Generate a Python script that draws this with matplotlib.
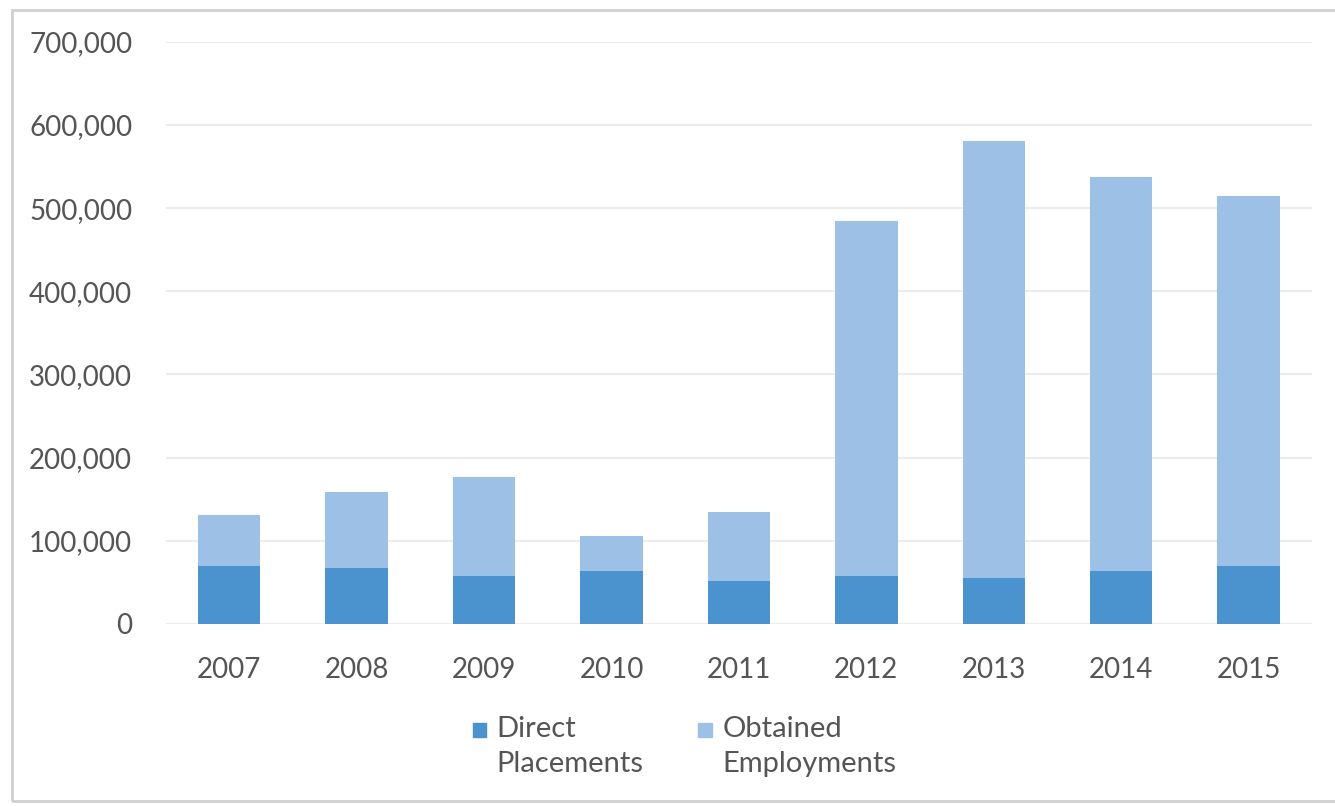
import numpy as np
import matplotlib.pyplot as plt
from matplotlib.ticker import FuncFormatter
from matplotlib.patches import Rectangle

years = ['2007', '2008', '2009', '2010', '2011', '2012', '2013', '2014', '2015']
direct = [70000, 67000, 57000, 63000, 51000, 57000, 55000, 64000, 69000]
totals = [131000, 158000, 177000, 106000, 135000, 485000, 581000, 538000, 515000]
obtained = [t - d for t, d in zip(totals, direct)]
series_names = ['Direct\nPlacements', 'Obtained\nEmployments']
colors = ['#4a93cf', '#9cc0e6']

plt.rcParams['font.family'] = ['Lato', 'DejaVu Sans']

fig = plt.figure(figsize=(13.35, 8.06), dpi=100)
ax = fig.add_axes([0.124, 0.226, 0.859, 0.722])

# light frame around the chart area
fig.patches.append(Rectangle((0.009, 0.006), 0.995, 0.982, transform=fig.transFigure,
                             fill=False, edgecolor='#d0d0d0', linewidth=2))

x = np.arange(len(years))
ax.bar(x, direct, width=0.49, color=colors[0], zorder=3)
ax.bar(x, obtained, width=0.49, bottom=direct, color=colors[1], zorder=3)

ax.set_xlim(-0.5, 8.5)
ax.set_ylim(0, 700000)
ax.set_yticks(np.arange(0, 700001, 100000))
ax.yaxis.set_major_formatter(FuncFormatter(lambda v, p: f'{int(v):,}'))
ax.set_xticks(x)
ax.set_xticklabels(years)
ax.grid(axis='y', color='#ececec', linewidth=1.5, zorder=0)
for s in ax.spines.values():
    s.set_visible(False)
ax.tick_params(length=0, labelsize=20, colors='#555555')
ax.tick_params(axis='x', pad=24)
ax.tick_params(axis='y', pad=24)

# legend: square marker beside first line of a two-line label
leg_x = [0.354, 0.523]
for lx, name, c in zip(leg_x, series_names, colors):
    fig.patches.append(Rectangle((lx, 0.086), 0.010, 0.017, transform=fig.transFigure,
                                 color=c))
    fig.text(lx + 0.018, 0.112, name, fontsize=21, color='#555555', va='top',
             linespacing=1.45)

fig.savefig('out.png', dpi=100, facecolor='white')
